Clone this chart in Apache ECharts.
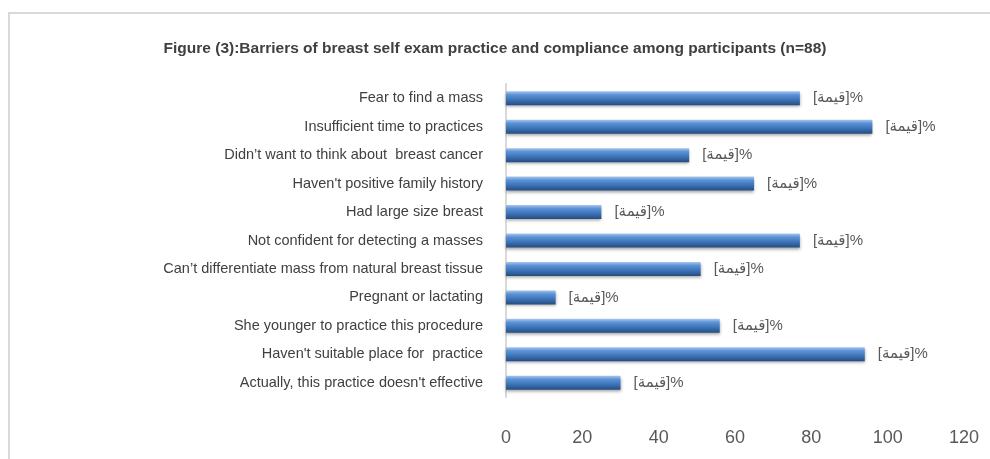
<!DOCTYPE html>
<html>
<head>
<meta charset="utf-8">
<title>Barriers of breast self exam</title>
<script src="https://cdn.jsdelivr.net/npm/echarts@6/dist/echarts.min.js"></script>
<style>
  html, body { margin: 0; padding: 0; background: #fff; }
  #chart { width: 990px; height: 459px; }
</style>
</head>
<body>
<div id="chart"></div>
<script>
// categories, top to bottom
var barriers = [
  "Fear to find a mass",
  "Insufficient time to practices",
  "Didn\u2019t want to think about  breast cancer",
  "Haven't positive family history",
  "Had large size breast",
  "Not confident for detecting a masses",
  "Can\u2019t differentiate mass from natural breast tissue",
  "Pregnant or lactating",
  "She younger to practice this procedure",
  "Haven't suitable place for  practice",
  "Actually, this practice doesn't effective"
];
// percent values
var percents = [77, 96, 48, 65, 25, 77, 51, 13, 56, 94, 30];
// data label text as it shows in the picture (placeholder left by Excel)
var labelText = "[\u0642\u064A\u0645\u0629]%";

var myChart = echarts.init(document.getElementById("chart"));

myChart.setOption({
  animation: false,
  title: {
    text: "Figure (3):Barriers of breast self exam practice and compliance among participants (n=88)",
    left: "center",
    top: 36,
    textStyle: {
      fontFamily: "Liberation Sans",
      fontSize: 15.5,
      fontWeight: "bold",
      color: "#404040"
    }
  },
  // grey frame round the chart area
  graphic: [
    {
      type: "rect",
      shape: { x: 9, y: 13, width: 1000, height: 500 },
      style: { fill: "none", stroke: "#d9d9d9", lineWidth: 2 },
      silent: true
    }
  ],
  grid: {
    left: 506,
    right: 26,
    top: 84,
    bottom: 62
  },
  xAxis: {
    type: "value",
    min: 0,
    max: 120,
    interval: 20,
    axisLine: { show: false },
    axisTick: { show: false },
    splitLine: { show: false },
    axisLabel: {
      margin: 32,
      fontFamily: "Liberation Sans",
      fontSize: 18,
      color: "#595959"
    }
  },
  yAxis: {
    type: "category",
    data: barriers,
    inverse: true,
    axisLine: { show: true, lineStyle: { color: "#d9d9d9", width: 2 } },
    axisTick: { show: false },
    axisLabel: {
      margin: 23,
      fontFamily: "Liberation Sans",
      fontSize: 14.5,
      color: "#404040"
    }
  },
  series: [
    {
      name: "Barriers",
      type: "bar",
      data: percents,
      barWidth: 14,
      itemStyle: {
        color: new echarts.graphic.LinearGradient(0, 0, 0, 1, [
          { offset: 0, color: "#a9c6ec" },
          { offset: 0.25, color: "#5b93d6" },
          { offset: 0.6, color: "#3f74b8" },
          { offset: 1, color: "#234d80" }
        ]),
        shadowColor: "rgba(0,0,0,0.35)",
        shadowBlur: 3,
        shadowOffsetY: 2
      },
      label: {
        show: true,
        position: "right",
        distance: 13,
        formatter: function () { return labelText; },
        fontFamily: "Liberation Sans, DejaVu Sans",
        fontSize: 15,
        color: "#595959"
      }
    }
  ]
});
</script>
</body>
</html>
